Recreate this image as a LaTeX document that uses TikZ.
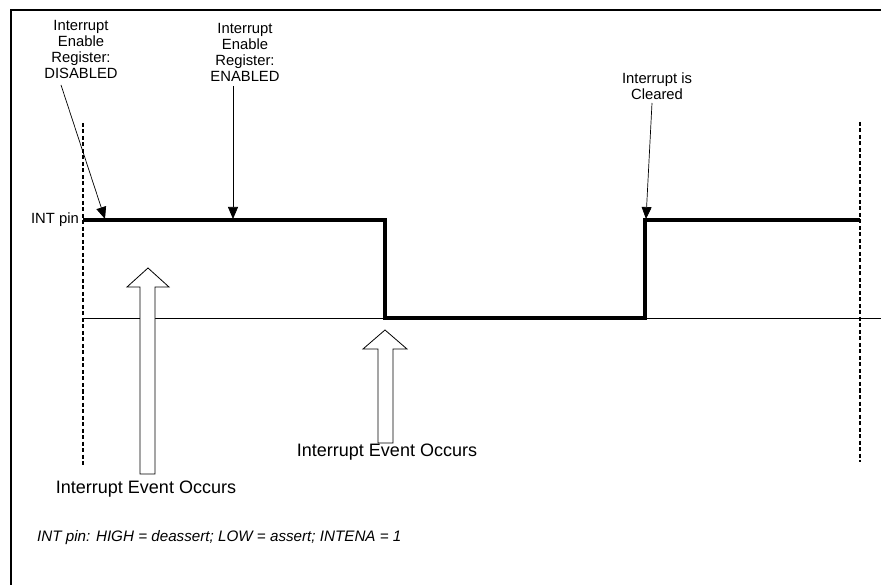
\documentclass[tikz,border=0pt]{standalone}
\usepackage{fontspec}
\setmainfont{Liberation Sans}
\usetikzlibrary{arrows.meta}
\tikzset{
  note/.style={align=center, inner sep=0pt, font=\fontsize{14.8}{16}\selectfont},
  event/.style={inner sep=0pt, font=\fontsize{18}{20}\selectfont},
  pointer/.style={-{Triangle[length=12pt,width=10pt]}, line width=0.7pt},
  signal/.style={line width=3.6pt, line join=miter},
  marker/.style={line width=1.3pt, dash pattern=on 4pt off 2.5pt},
  hollow/.style={draw, fill=white, line width=0.8pt}
}
\begin{document}
\begin{tikzpicture}[x=1pt, y=-1pt]
  \useasboundingbox (0,0) rectangle (881,585);
  % frame
  \draw[line width=2pt] (11,585) -- (11,10) -- (881,10);

  % time markers and base level
  \draw[marker] (83,123) -- (83,465);
  \draw[marker] (860,122) -- (860,462);
  \draw[line width=0.8pt] (83,318) -- (881,318);

  % INT pin waveform
  \node[note, anchor=east] (pin) at (79,220) {INT pin};
  \coordinate (hi1) at (83,220);
  \coordinate (fall) at (385,220);
  \coordinate (lo1) at (385,318);
  \coordinate (rise) at (645,318);
  \coordinate (hi2) at (645,220);
  \coordinate (hi3) at (860,220);
  \draw[signal] (hi1) -- (fall) -- (lo1) -- (rise) -- (hi2) -- (hi3);

  % labels above the waveform
  \node[note] (dis) at (81,49) {Interrupt\\Enable\\Register:\\DISABLED};
  \node[note] (ena) at (245,52) {Interrupt\\Enable\\Register:\\ENABLED};
  \node[note] (clr) at (657,86) {Interrupt is\\Cleared};
  \coordinate (disfrom) at (61,85);
  \coordinate (disto) at (105,219);
  \coordinate (enafrom) at (233,86);
  \coordinate (enato) at (233,219);
  \coordinate (clrfrom) at (652,103);
  \coordinate (clrto) at (646,219);
  \draw[pointer] (disfrom) -- (disto);
  \draw[pointer] (enafrom) -- (enato);
  \draw[pointer] (clrfrom) -- (clrto);

  % interrupt events
  \draw[hollow] (148,268) -- (169,287) -- (155,287) -- (155,474)
    -- (140,474) -- (140,287) -- (127,287) -- cycle;
  \draw[hollow] (385,330) -- (407,349) -- (393,349) -- (393,443)
    -- (378,443) -- (378,349) -- (363,349) -- cycle;
  \node[event] (ev1) at (146,489) {Interrupt Event Occurs};
  \node[event] (ev2) at (387,452) {Interrupt Event Occurs};

  % footnote
  \node[note, anchor=west, font=\fontsize{15.2}{17}\selectfont\itshape] (foot) at (37,538)
    {INT pin: HIGH = deassert; LOW = assert; INTENA = 1};
\end{tikzpicture}
\end{document}
